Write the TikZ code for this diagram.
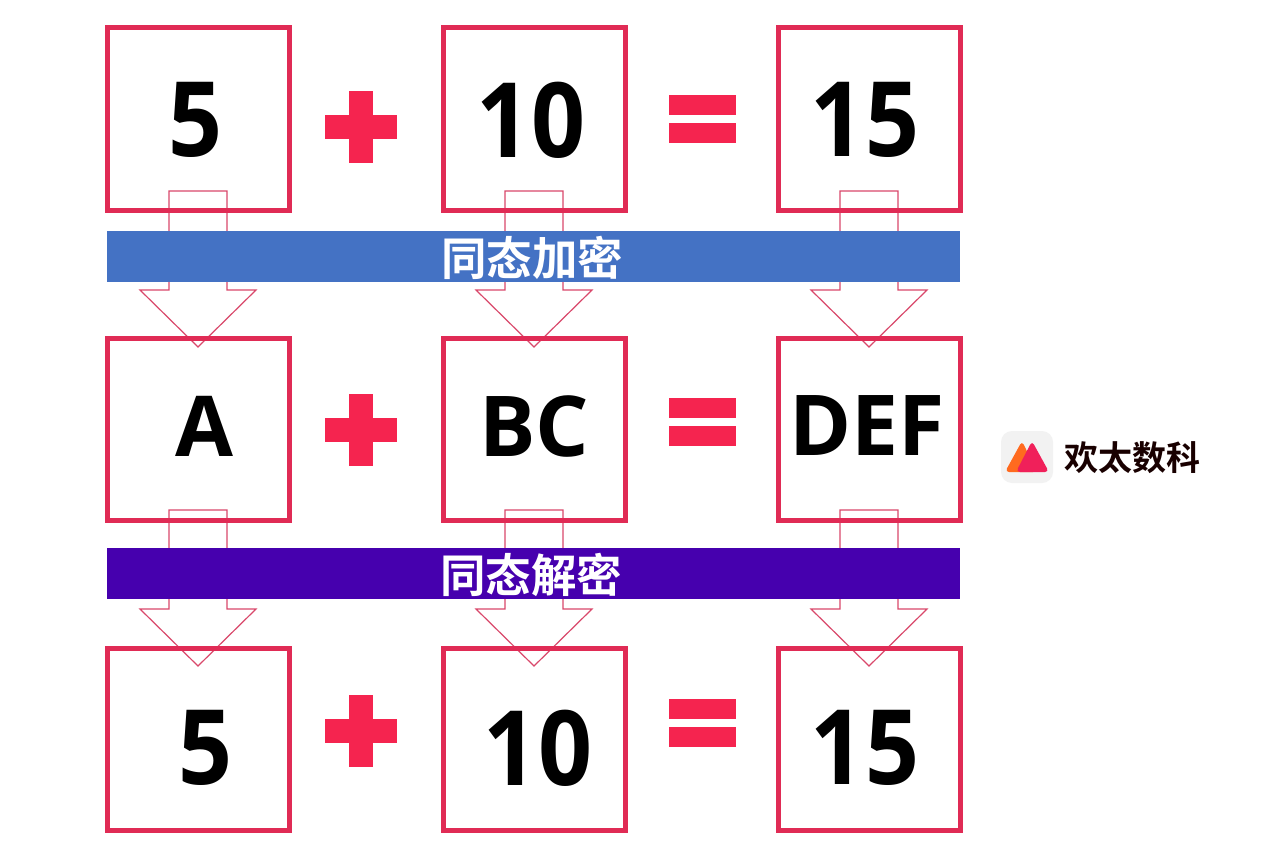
\documentclass[tikz,border=0pt]{standalone}
\usepackage{fontspec}
\setmainfont{Noto Sans CJK SC}[BoldFont={Noto Sans CJK SC Bold}]
\newfontfamily\latinfam{Open Sans}
\newfontfamily\digitfam{Open Sans}[FakeStretch=0.91]
\definecolor{rose}{HTML}{E02B55}
\definecolor{arrowrose}{HTML}{D9486B}
\definecolor{signred}{HTML}{F5244F}
\definecolor{barblue}{HTML}{4472C4}
\definecolor{barviolet}{HTML}{4600AE}
\definecolor{logoorange}{HTML}{FF6A1F}
\definecolor{logored}{HTML}{F0205A}
\tikzset{
  x=1pt,y=-1pt,
  numbox/.style={draw=rose,line width=5pt,minimum width=182pt,minimum height=182pt,inner sep=0pt,outer sep=0pt,fill=white},
  digittext/.style={font=\digitfam\bfseries\fontsize{104}{104}\selectfont,text=black,inner sep=0pt,anchor=center},
  lettertext/.style={font=\latinfam\bfseries\fontsize{84}{84}\selectfont,text=black,inner sep=0pt,anchor=center},
  barbox/.style={minimum width=853pt,minimum height=51pt,inner sep=0pt,draw=none},
  bartext/.style={font=\bfseries\fontsize{45.5}{45.5}\selectfont,text=white,inner sep=0pt},
  blockarrow/.style={draw=arrowrose,line width=1.2pt,fill=white,line join=miter},
  signfill/.style={fill=signred,draw=none},
  boxedge/.style={draw=rose,line width=5pt},
}
\newcommand{\downblock}[2]{%
  \path[blockarrow] (#1-29,#2) -- (#1+29,#2) -- (#1+29,#2+99) -- (#1+58,#2+99) -- (#1,#2+156) -- (#1-58,#2+99) -- (#1-29,#2+99) -- cycle;}
\newcommand{\plussign}[2]{%
  \fill[signfill] (#1-12,#2-36) rectangle (#1+12,#2+36);
  \fill[signfill] (#1-36,#2-12) rectangle (#1+36,#2+12);}
\newcommand{\equalsign}[2]{%
  \fill[signfill] (#1-33.5,#2-24) rectangle (#1+33.5,#2-4);
  \fill[signfill] (#1-33.5,#2+4) rectangle (#1+33.5,#2+24);}
\begin{document}
\begin{tikzpicture}
\useasboundingbox (0,0) rectangle (1268,859);
\fill[white] (0,0) rectangle (1268,859);
% boxes
\node[numbox] (a1) at (198,119) {};
\node[numbox] (b1) at (534,119) {};
\node[numbox] (c1) at (869,119) {};
\node[numbox] (a2) at (198,429) {};
\node[numbox] (b2) at (534,429) {};
\node[numbox] (c2) at (869,429) {};
\node[numbox] (a3) at (198,739) {};
\node[numbox] (b3) at (534,739) {};
\node[numbox] (c3) at (869,739) {};
% arrows
\downblock{198}{191}\downblock{534}{191}\downblock{869}{191}
\downblock{198}{510}\downblock{534}{510}\downblock{869}{510}
% edges of the boxes that lie over the arrows
\foreach \n in {a,b,c}{
  \draw[boxedge] (\n1.south west) -- (\n1.south east);
  \draw[boxedge] (\n2.north west) -- (\n2.north east);
  \draw[boxedge] (\n2.south west) -- (\n2.south east);
  \draw[boxedge] (\n3.north west) -- (\n3.north east);
}
% bars
\node[barbox,fill=barblue] (enc) at (533.5,256.5) {};
\node[barbox,fill=barviolet] (dec) at (533.5,573.5) {};
\node[bartext] (enct) at (532,258) {同态加密};
\node[bartext] (dect) at (531,575) {同态解密};
% numbers
\node[digittext] (ta1) at (196,120) {5};
\node[digittext] (tb1) at (531,120) {10};
\node[digittext] (tc1) at (865,120) {15};
\node[lettertext] (ta2) at (204,426) {A};
\node[lettertext] (tb2) at (534,426) {BC};
\node[lettertext] (tc2) at (867,426) {DEF};
\node[digittext] (ta3) at (206,748) {5};
\node[digittext] (tb3) at (538,748) {10};
\node[digittext] (tc3) at (865,748) {15};
% signs
\plussign{361}{127}\plussign{361}{430}\plussign{361}{731}
\equalsign{702}{119}\equalsign{702}{422}\equalsign{702}{723}
% logo
\fill[fill=black!5,rounded corners=11pt] (1001,431) rectangle (1053,483);
\fill[logoorange,rounded corners=4pt] (1005,472) -- (1022,441) -- (1037,472) -- cycle;
\fill[logored,rounded corners=4pt] (1016,472) -- (1032,441) -- (1049,472) -- cycle;
\node[font=\bfseries\fontsize{34}{34}\selectfont,text=black!90!red,inner sep=0pt] (logo) at (1132,458) {欢太数科};
\end{tikzpicture}
\end{document}
